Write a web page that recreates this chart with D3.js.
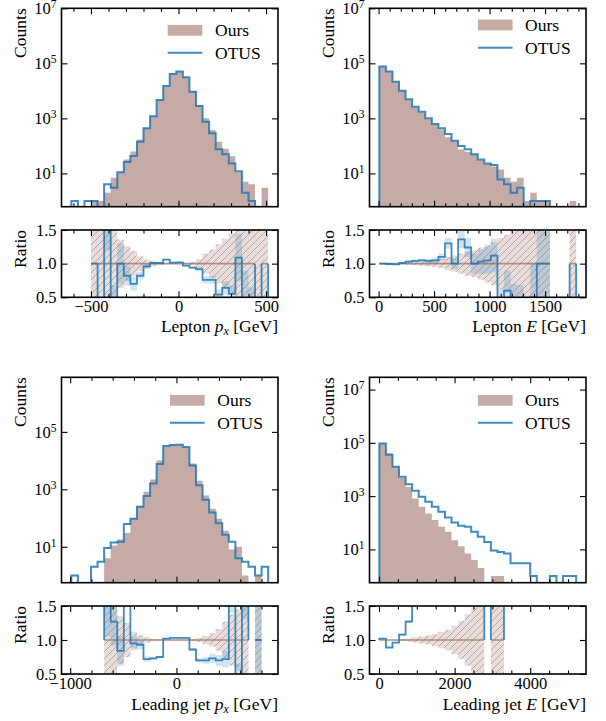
<!DOCTYPE html>
<html>
<head>
<meta charset="utf-8">
<script src="https://cdn.jsdelivr.net/npm/d3@7"></script>
<style>
body { margin: 0; background: #fff; }
svg text { font-family: "Liberation Serif", "Times New Roman", serif; font-size: 16.5px; fill: #000; }
svg text.title { font-size: 17.5px; }
</style>
</head>
<body>
<script>
// ---- data, 30 bins per histogram ----

// Lepton p_x
const lepPxRange = [-612, 512];
const lepPxOurs = [0, 0, 0, 1, 1, 2, 7, 11, 32, 62, 170, 455, 1190, 4600, 14200, 40000, 49000, 32000, 9900, 3050, 1000, 375, 140, 78, 42, 11, 5, 4, 0, 3];
const lepPxOtus = [1, 0, 1, 1, 0, 4, 3, 11, 26, 43, 140, 436, 1200, 4640, 15000, 40600, 50000, 31000, 9300, 2800, 760, 285, 76, 50, 23, 12, 2, 1, 0, 0];
const lepPxRatio = [null, null, null, 1.0, 0, 2, 0.43, 1.0, 0.82, 0.7, 0.82, 0.96, 1.01, 1.01, 1.06, 1.015, 1.02, 0.97, 0.94, 0.92, 0.76, 0.76, 0.54, 0.64, 0.55, 1.09, 0.4, 0.25, null, 0];
const lepPxOursErr = [null, null, null, 1, 1, 1, 1, 0.36, 0.26, 0.19, 0.11, 0.06, 0.035, 0.02, 0.01, 0.006, 0.006, 0.01, 0.02, 0.07, 0.15, 0.21, 0.29, 0.37, 0.45, 1, 1, 1, 1, 1];
const lepPxOtusErr = [0, 0, 0, 0, 0, 0.8, 0.25, 0.3, 0.15, 0.1, 0.06, 0.04, 0.02, 0.01, 0.005, 0.005, 0.005, 0.01, 0.02, 0.03, 0.05, 0.06, 0.08, 0.1, 0.12, 0.35, 0.5, 0.4, 0, 0];

// Lepton E
const lepERange = [7, 1780];
const lepEOurs = [76000, 50000, 21700, 9900, 4850, 2530, 1650, 960, 590, 394, 208, 155, 74, 61, 50, 31, 22, 18, 14, 7, 5, 7, 1, 2, 1, 1, 0, 0, 0, 1];
const lepEOtus = [76000, 50000, 21500, 10000, 5000, 2630, 1730, 1000, 620, 433, 270, 155, 100, 76, 50, 32, 23, 20, 6, 4, 2, 3, 0, 1, 1, 1, 0, 0, 0, 0];
const lepERatio = [1.0, 0.995, 0.99, 1.01, 1.03, 1.04, 1.05, 1.04, 1.05, 1.1, 1.3, 1.0, 1.36, 1.24, 1.0, 1.03, 1.05, 1.12, 0.43, 0.6, 0.4, 0.43, 0, 0.5, 1.0, 1.0, null, null, null, 0];
const lepEOursErr = [0.004, 0.005, 0.007, 0.01, 0.015, 0.02, 0.03, 0.04, 0.05, 0.07, 0.1, 0.12, 0.15, 0.18, 0.2, 0.24, 0.28, 0.32, 0.38, 0.43, 0.5, 0.55, 1, 1, 1, 1, null, null, null, 1];
const lepEOtusErr = [0.004, 0.005, 0.007, 0.01, 0.015, 0.02, 0.025, 0.03, 0.04, 0.05, 0.08, 0.08, 0.13, 0.14, 0.15, 0.18, 0.2, 0.25, 0.2, 0.3, 0.3, 0.25, 0, 0.5, 1, 1, 0, 0, 0, 0];

// Leading jet p_x
const jetPxRange = [-989, 863];
const jetPxOurs = [0, 0, 0, 0, 0, 4, 11, 18, 30, 99, 270, 820, 2200, 10100, 31400, 34000, 35000, 29000, 7900, 2000, 610, 212, 94, 36, 8, 10, 1, 0, 1, 0];
const jetPxOtus = [1, 0, 0, 2, 3, 9, 14, 15, 62, 94, 250, 590, 1600, 7600, 32000, 35000, 36000, 30000, 6800, 1400, 430, 155, 66, 26, 15, 4, 3, 2, 1, 2];
const jetPxRatio = [null, null, null, null, null, 2.25, 1.27, 0.84, 2.07, 0.95, 0.93, 0.72, 0.73, 0.75, 1.02, 1.03, 1.03, 1.03, 0.86, 0.7, 0.7, 0.73, 0.7, 0.72, 1.9, 0.4, 3, null, 1.0, null];
const jetPxOursErr = [null, null, null, null, null, 1, 0.5, 0.35, 0.25, 0.12, 0.07, 0.04, 0.02, 0.01, 0.006, 0.006, 0.006, 0.006, 0.015, 0.03, 0.06, 0.1, 0.16, 0.27, 0.38, 0.45, 1, null, 1, null];
const jetPxOtusErr = [0, 0, 0, 0, 0, 1.2, 0.35, 0.22, 0.3, 0.1, 0.07, 0.04, 0.02, 0.01, 0.005, 0.005, 0.005, 0.005, 0.02, 0.03, 0.05, 0.07, 0.08, 0.12, 0.5, 0.25, 1.7, 0, 1, 0];

// Leading jet E
const jetERange = [9, 5216];
const jetEOurs = [93000, 40400, 13100, 4900, 2200, 820, 400, 224, 126, 71, 46, 22, 13, 7, 4, 2, 0, 1, 1, 0, 0, 0, 0, 0, 0, 0, 0, 0, 0, 0];
const jetEOtus = [95000, 36000, 12600, 5300, 2800, 1600, 950, 620, 400, 260, 158, 103, 77, 71, 46, 30, 19, 9, 8, 7, 3, 3, 3, 1, 0, 0, 1, 0, 1, 1];
const jetERatio = [1.02, 0.89, 0.96, 1.08, 1.27, 1.95, 2.4, 2.8, 3.2, 3.7, 3.4, 4.7, 5.9, 10, 11.5, 15, null, 9, 8, null, null, null, null, null, null, null, null, null, null, null];
const jetEOursErr = [0.003, 0.005, 0.009, 0.016, 0.023, 0.035, 0.05, 0.067, 0.09, 0.12, 0.15, 0.21, 0.28, 0.38, 0.48, 0.7, null, 1, 1, null, null, null, null, null, null, null, null, null, null, null];
const jetEOtusErr = [0.003, 0.005, 0.009, 0.015, 0.024, 0.05, 0.08, 0.11, 0.16, 0.23, 0.27, 0.46, 0.67, 1.2, 1.7, 2.7, 0, 3, 2.8, 0, 0, 0, 0, 0, 0, 0, 0, 0, 0, 0];

const legendLabels = ["Ours", "OTUS"];

// ---- layout ----
const panels = [
    {key: "a", range: lepPxRange, ours: lepPxOurs, otus: lepPxOtus, ratio: lepPxRatio, oursErr: lepPxOursErr, otusErr: lepPxOtusErr,
     box: [61.5, 278], mainY: [8.3, 206.7], ratioY: [230, 297.3], yDom: [Math.pow(10, -0.21), 1e7],
     xMajor: [-500, 0, 500], xMinor: 100, legend: [167.7, 30.3, 52.7, 215], ylabX: 26,
     xlabel: [["Lepton ", 0], ["p", 1], ["x", 2], [" [GeV]", 3]], xlabY: 332},
    {key: "b", range: lepERange, ours: lepEOurs, otus: lepEOtus, ratio: lepERatio, oursErr: lepEOursErr, otusErr: lepEOtusErr,
     box: [369.5, 586], mainY: [8.3, 206.7], ratioY: [230, 297.3], yDom: [Math.pow(10, -0.21), 1e7],
     xMajor: [0, 500, 1000, 1500], xMinor: 100, legend: [478, 25, 47.7, 525], ylabX: 334,
     xlabel: [["Lepton ", 0], ["E", 1], [" [GeV]", 0]], xlabY: 332},
    {key: "c", range: jetPxRange, ours: jetPxOurs, otus: jetPxOtus, ratio: jetPxRatio, oursErr: jetPxOursErr, otusErr: jetPxOtusErr,
     box: [61.5, 278], mainY: [377.3, 582.7], ratioY: [606, 674], yDom: [Math.pow(10, -0.25), Math.pow(10, 6.9)],
     xMajor: [-1000, 0], xMinor: 200, legend: [170, 400.3, 422.7, 217.3], ylabX: 26,
     xlabel: [["Leading jet ", 0], ["p", 1], ["x", 2], [" [GeV]", 3]], xlabY: 710},
    {key: "d", range: jetERange, ours: jetEOurs, otus: jetEOtus, ratio: jetERatio, oursErr: jetEOursErr, otusErr: jetEOtusErr,
     box: [369.5, 586], mainY: [377.3, 582.7], ratioY: [606, 674], yDom: [Math.pow(10, -0.25), Math.pow(10, 7.46)],
     xMajor: [0, 2000, 4000], xMinor: 500, legend: [478, 400.3, 422.7, 525], ylabX: 334,
     xlabel: [["Leading jet ", 0], ["E", 1], [" [GeV]", 0]], xlabY: 710}
];

const brown = "#8c564b";
const blue = "#1f77b4";

var svg = d3.select("body").append("svg")
    .attr("width", 606)
    .attr("height", 721);

var defs = svg.append("defs");
defs.append("pattern")
    .attr("id", "hatch")
    .attr("patternUnits", "userSpaceOnUse")
    .attr("width", 7)
    .attr("height", 7)
    .append("path")
    .attr("d", "M-1,1 l2,-2 M0,7 l7,-7 M6,8 l2,-2")
    .attr("stroke", "rgba(110,90,90,0.5)")
    .attr("stroke-width", 0.8);

// contiguous index runs where test(k) holds -> [start, end)
function runs(n, test) {
    let out = [];
    let k = 0;
    while (k < n) {
        if (test(k)) {
            let s = k;
            while (k < n && test(k)) k++;
            out.push([s, k]);
        } else k++;
    }
    return out;
}

function clampR(v) { return Math.max(-1, Math.min(3, v)); }

function styleAxis(g) {
    g.attr("font-size", null).attr("font-family", null);
    g.select(".domain").remove();
    g.selectAll(".tick line").attr("stroke", "#000").attr("stroke-width", 1.1);
}

function drawPanel(p) {
    const n = p.ours.length;
    const lo = p.range[0], hi = p.range[1];
    const pad = 0.05 * (hi - lo);
    const edges = d3.range(n + 1).map(i => lo + i * (hi - lo) / n);

    const x = d3.scaleLinear().domain([lo - pad, hi + pad]).range(p.box);
    const y = d3.scaleLog().domain(p.yDom).range([p.mainY[1], p.mainY[0]]);
    const yr = d3.scaleLinear().domain([0.5, 1.5]).range([p.ratioY[1], p.ratioY[0]]);

    const bw = p.box[1] - p.box[0];
    defs.append("clipPath").attr("id", "cm" + p.key).append("rect")
        .attr("x", p.box[0]).attr("y", p.mainY[0]).attr("width", bw).attr("height", p.mainY[1] - p.mainY[0]);
    defs.append("clipPath").attr("id", "cr" + p.key).append("rect")
        .attr("x", p.box[0]).attr("y", p.ratioY[0]).attr("width", bw).attr("height", p.ratioY[1] - p.ratioY[0]);

    // ---- main histogram ----
    let main = svg.append("g").attr("clip-path", `url(#cm${p.key})`);
    let base = p.mainY[1];
    let d = "";
    runs(n, k => p.ours[k] > 0).forEach(([s, e]) => {
        d += `M${x(edges[s])},${base}`;
        for (let k = s; k < e; k++) d += `L${x(edges[k])},${y(p.ours[k])}L${x(edges[k + 1])},${y(p.ours[k])}`;
        d += `L${x(edges[e])},${base}Z`;
    });
    main.append("path").attr("d", d).attr("fill", brown).attr("fill-opacity", 0.5);

    // OTUS as step outline, zero bins fall below the axis
    let low = base + 6;
    d = `M${x(edges[0])},${low}`;
    for (let k = 0; k < n; k++) {
        let yy = p.otus[k] > 0 ? y(p.otus[k]) : low;
        d += `L${x(edges[k])},${yy}L${x(edges[k + 1])},${yy}`;
    }
    d += `L${x(edges[n])},${low}`;
    main.append("path").attr("d", d).attr("fill", "none")
        .attr("stroke", blue).attr("stroke-opacity", 0.85).attr("stroke-width", 2);

    // ---- ratio panel ----
    let rat = svg.append("g").attr("clip-path", `url(#cr${p.key})`);

    function band(test, mid, err) {
        let dd = "";
        runs(n, test).forEach(([s, e]) => {
            dd += `M${x(edges[s])},${yr(clampR(mid(s) + err(s)))}`;
            for (let k = s; k < e; k++) {
                let t = yr(clampR(mid(k) + err(k)));
                dd += `L${x(edges[k])},${t}L${x(edges[k + 1])},${t}`;
            }
            for (let k = e - 1; k >= s; k--) {
                let b = yr(clampR(mid(k) - err(k)));
                dd += `L${x(edges[k + 1])},${b}L${x(edges[k])},${b}`;
            }
            dd += "Z";
        });
        return dd;
    }

    let oursBand = band(k => p.oursErr[k] != null, k => 1, k => p.oursErr[k]);
    rat.append("path").attr("d", oursBand).attr("fill", brown).attr("fill-opacity", 0.2);
    rat.append("path").attr("d", oursBand).attr("fill", "url(#hatch)");

    let otusBand = band(k => p.ratio[k] != null && p.otusErr[k] > 0, k => p.ratio[k], k => p.otusErr[k]);
    rat.append("path").attr("d", otusBand).attr("fill", blue).attr("fill-opacity", 0.2);

    d = "";
    runs(n, k => p.ours[k] > 0).forEach(([s, e]) => {
        d += `M${x(edges[s])},${yr(1)}H${x(edges[e])}`;
    });
    rat.append("path").attr("d", d).attr("fill", "none")
        .attr("stroke", brown).attr("stroke-opacity", 0.6).attr("stroke-width", 1.6);

    d = "";
    runs(n, k => p.ratio[k] != null).forEach(([s, e]) => {
        d += `M${x(edges[s])},${yr(1)}`;
        for (let k = s; k < e; k++) {
            let t = yr(clampR(p.ratio[k]));
            d += `L${x(edges[k])},${t}L${x(edges[k + 1])},${t}`;
        }
        d += `L${x(edges[e])},${yr(1)}`;
    });
    rat.append("path").attr("d", d).attr("fill", "none")
        .attr("stroke", blue).attr("stroke-opacity", 0.85).attr("stroke-width", 1.8);

    // ---- axes ----
    const dom = x.domain();
    const minor = d3.range(Math.ceil(dom[0] / p.xMinor) * p.xMinor, dom[1], p.xMinor)
        .filter(v => p.xMajor.indexOf(v) < 0);
    const logTicks = [1e1, 1e3, 1e5, 1e7].filter(v => v >= p.yDom[0] && v <= p.yDom[1]);

    [[p.mainY, false], [p.ratioY, true]].forEach(([yy, labels]) => {
        let gb = svg.append("g").attr("transform", `translate(0,${yy[1]})`)
            .call(d3.axisBottom(x).tickValues(p.xMajor).tickSize(-6).tickPadding(3)
                .tickFormat(labels ? d3.format("d") : ""));
        styleAxis(gb);
        styleAxis(svg.append("g").attr("transform", `translate(0,${yy[1]})`)
            .call(d3.axisBottom(x).tickValues(minor).tickSize(-3.5).tickFormat("")));
        styleAxis(svg.append("g").attr("transform", `translate(0,${yy[0]})`)
            .call(d3.axisTop(x).tickValues(p.xMajor).tickSize(-6).tickFormat("")));
        styleAxis(svg.append("g").attr("transform", `translate(0,${yy[0]})`)
            .call(d3.axisTop(x).tickValues(minor).tickSize(-3.5).tickFormat("")));
    });

    let gy = svg.append("g").attr("transform", `translate(${p.box[0]},0)`)
        .call(d3.axisLeft(y).tickValues(logTicks).tickSize(-6).tickPadding(5));
    styleAxis(gy);
    gy.selectAll(".tick text").each(function (v) {
        let t = d3.select(this);
        t.text(null);
        t.append("tspan").text("10");
        t.append("tspan").attr("font-size", "11.5px").attr("dy", "-6").text(Math.round(Math.log10(v)));
    });
    styleAxis(svg.append("g").attr("transform", `translate(${p.box[1]},0)`)
        .call(d3.axisRight(y).tickValues(logTicks).tickSize(-6).tickFormat("")));

    styleAxis(svg.append("g").attr("transform", `translate(${p.box[0]},0)`)
        .call(d3.axisLeft(yr).tickValues([0.5, 1.0, 1.5]).tickSize(-6).tickPadding(5).tickFormat(d3.format(".1f"))));
    styleAxis(svg.append("g").attr("transform", `translate(${p.box[1]},0)`)
        .call(d3.axisRight(yr).tickValues([0.5, 1.0, 1.5]).tickSize(-6).tickFormat("")));

    // frames
    [p.mainY, p.ratioY].forEach(yy => {
        svg.append("rect").attr("x", p.box[0]).attr("y", yy[0])
            .attr("width", bw).attr("height", yy[1] - yy[0])
            .attr("fill", "none").attr("stroke", "#000").attr("stroke-width", 1.6);
    });

    // axis titles
    svg.append("text").attr("class", "title").attr("transform", `translate(${p.ylabX},${p.mainY[0]}) rotate(-90)`)
        .attr("text-anchor", "end").text("Counts");
    svg.append("text").attr("class", "title").attr("transform", `translate(${p.ylabX},${p.ratioY[0]}) rotate(-90)`)
        .attr("text-anchor", "end").text("Ratio");

    let xl = svg.append("text").attr("class", "title").attr("x", p.box[1]).attr("y", p.xlabY).attr("text-anchor", "end");
    p.xlabel.forEach(([s, kind]) => {
        let ts = xl.append("tspan").text(s);
        if (kind === 1) ts.attr("font-style", "italic");
        if (kind === 2) ts.attr("font-style", "italic").attr("font-size", "12px").attr("dy", 3);
        if (kind === 3) ts.attr("dy", -3);
    });

    // legend
    let lg = p.legend;
    svg.append("rect").attr("x", lg[0]).attr("y", lg[1] - 5.4).attr("width", 34.6).attr("height", 10.8)
        .attr("fill", brown).attr("fill-opacity", 0.5);
    svg.append("line").attr("x1", lg[0]).attr("x2", lg[0] + 34.6).attr("y1", lg[2]).attr("y2", lg[2])
        .attr("stroke", blue).attr("stroke-opacity", 0.85).attr("stroke-width", 2);
    svg.append("text").attr("class", "title").attr("x", lg[3]).attr("y", lg[1] + 5.8).text(legendLabels[0]);
    svg.append("text").attr("class", "title").attr("x", lg[3]).attr("y", lg[2] + 5.8).text(legendLabels[1]);
}

panels.forEach(drawPanel);
</script>
</body>
</html>
